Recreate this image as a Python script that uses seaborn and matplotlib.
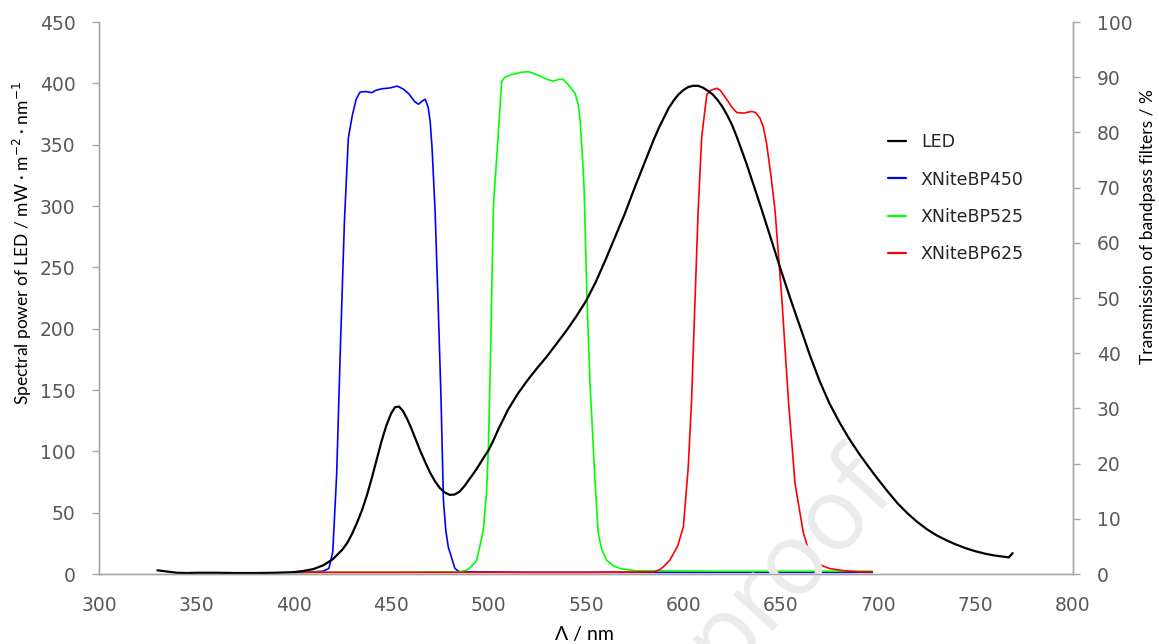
import numpy as np
import pandas as pd
import matplotlib
matplotlib.use("Agg")
import matplotlib.pyplot as plt
from matplotlib.lines import Line2D
import seaborn as sns

# LED spectral power (mW m^-2 nm^-1)
led_nm = [330, 335, 340, 345, 350, 360, 370, 380, 390, 400, 405, 410, 415, 420, 425,
          427.5, 430, 432.5, 435, 437.5, 440, 442.5, 445, 447.5, 450, 452, 454, 456,
          458, 460, 462.5, 465, 467.5, 470, 472.5, 475, 477.5, 480, 482.5, 485, 487.5,
          490, 492.5, 495, 497.5, 500, 502.5, 505, 507.5, 510, 515, 520, 525, 530,
          535, 540, 545, 550, 555, 560, 565, 570, 575, 580, 585, 587.5, 590, 592.5,
          595, 597.5, 600, 602.5, 605, 607.5, 610, 612.5, 615, 617.5, 620, 622.5,
          625, 627.5, 630, 632.5, 635, 637.5, 640, 645, 650, 655, 660, 665, 670, 675,
          680, 685, 690, 695, 700, 705, 710, 715, 720, 725, 730, 735, 740, 745, 750,
          755, 760, 765, 767, 769]
led_power = [3.0, 2.0, 1.0, 0.8, 1.0, 1.0, 0.8, 0.8, 1.0, 1.5, 2.5, 4, 7, 12, 20,
             25.5, 33, 42, 52, 64, 78, 93, 108, 121, 131, 136, 136.5, 133,
             127, 120, 110, 100, 91, 82.5, 75.5, 70, 66.5, 64.5, 64.8, 67, 71.5,
             77, 82.5, 88.5, 95, 101, 109, 118, 126, 134, 147, 158, 168, 177.5,
             188, 198.5, 210, 222.5, 238, 256, 275, 294, 315, 335, 355, 364, 372, 380,
             386, 391, 394.5, 397, 398, 398, 396.5, 394, 391, 386.5, 381, 374,
             366, 356, 345, 334, 322, 310, 298, 273, 248, 224, 201, 178, 157, 139,
             124, 110.5, 98.5, 87.5, 77, 67, 57.5, 49.5, 42.5, 36.5, 31.5, 27.5, 24, 21, 18.5,
             16.5, 15, 14, 13.5, 17]

# Bandpass filter transmission (%)
bp450_nm = [400, 405, 410, 415, 418, 420, 422, 424, 426, 428, 430, 432, 434, 437, 440,
            442, 445, 448, 450, 453, 456, 459, 462, 464, 466, 467.5, 469, 470, 471,
            472.5, 474, 475.6, 476.8, 478, 479.3, 482.7, 485, 520, 560, 600, 650, 697]
bp450_t = [0.3, 0.3, 0.4, 0.5, 1.0, 4, 18, 42, 64, 79, 83, 86, 87.3, 87.4, 87.2,
           87.6, 87.9, 88.0, 88.1, 88.4, 87.9, 87.0, 85.6, 85.1, 85.7, 86.0, 84.5, 82, 77,
           66, 50, 31.5, 13.4, 8, 4.9, 1.0, 0.4, 0.3, 0.3, 0.3, 0.3, 0.3]

bp525_nm = [400, 450, 485, 488.8, 491, 493.9, 495.5, 497.3, 499, 499.9, 501, 502.5,
            503.5, 505, 506.7, 508.4, 511, 514.4, 517, 520.4, 523, 526.4, 530, 533.2,
            536, 538.3, 541, 544.4, 546, 547, 548.3, 549, 550.5, 552, 554.6, 556.3,
            558, 560.6, 564, 567.5, 575, 620, 660, 697]
bp525_t = [0.3, 0.3, 0.4, 0.7, 1.3, 2.5, 5, 8, 15, 23, 40, 67,
           72, 79.8, 89.2, 90.0, 90.4, 90.7, 90.9, 91.0, 90.7, 90.2, 89.6, 89.3,
           89.6, 89.6, 88.6, 87.1, 85, 82.2, 75, 70, 50, 35, 17, 7.4,
           4.5, 2.5, 1.5, 1.0, 0.6, 0.5, 0.5, 0.5]

bp625_nm = [400, 450, 500, 550, 585, 588, 589.7, 593, 597, 600, 602.5, 604.2, 606,
            607.6, 609.4, 612, 614, 617.1, 619, 622.2, 625, 627.4, 631, 635.1, 637,
            639.3, 641, 642.7, 645, 647, 650.5, 653.9, 657.3, 661.6, 665, 668.4, 675,
            682, 690, 697]
bp625_t = [0.3, 0.3, 0.3, 0.3, 0.4, 0.8, 1.3, 2.5, 5, 8.6, 19.4, 31.5, 50,
           66, 79.2, 86.8, 87.6, 88.0, 87.6, 86, 84.5, 83.6, 83.5, 83.8, 83.6,
           82.6, 81, 78, 72, 66, 50, 31.5, 16.4, 7.4, 3.5, 1.9, 1.0,
           0.6, 0.4, 0.4]

filter_names = ["XNiteBP450", "XNiteBP525", "XNiteBP625"]
filter_colors = ["#0000ff", "#00ff00", "#ff0000"]

led_df = pd.DataFrame({"nm": led_nm, "power": led_power})
filt_df = pd.concat([
    pd.DataFrame({"nm": bp450_nm, "t": bp450_t, "filter": filter_names[0]}),
    pd.DataFrame({"nm": bp525_nm, "t": bp525_t, "filter": filter_names[1]}),
    pd.DataFrame({"nm": bp625_nm, "t": bp625_t, "filter": filter_names[2]}),
], ignore_index=True)

sns.set_style("white")
plt.rcParams["font.family"] = ["DejaVu Sans"]

fig = plt.figure(figsize=(11.59, 6.44), dpi=100)
ax = fig.add_axes([99 / 1159, 1 - 574 / 644, (1073 - 99) / 1159, (574 - 22) / 644])
ax2 = ax.twinx()

# faint watermark behind the curves
fig.text(0.682, 0.126, "proof", fontsize=72, color="#ebebeb", rotation=48,
         ha="center", va="center", family="Open Sans", zorder=0)
ax.patch.set_alpha(0)
ax2.patch.set_alpha(0)

sns.lineplot(data=filt_df, x="nm", y="t", hue="filter", palette=filter_colors,
             hue_order=filter_names, ax=ax2, linewidth=1.2, legend=False,
             sort=False, estimator=None)
sns.lineplot(data=led_df, x="nm", y="power", ax=ax, color="black", linewidth=1.6,
             legend=False, sort=False, estimator=None)
ax.set_zorder(ax2.get_zorder() + 1)

grey = "#a6a6a6"
tick_col = "#595959"
for a in (ax, ax2):
    a.set_xlim(300, 800)
    a.spines["top"].set_visible(False)
    for s in ("left", "right", "bottom"):
        a.spines[s].set_color(grey)
        a.spines[s].set_linewidth(1.0)
    a.tick_params(colors=grey, labelcolor=tick_col, labelsize=13.5, length=5, width=1,
                  direction="out", pad=12)
    a.grid(False)

ax.set_ylim(0, 450)
ax.set_yticks(np.arange(0, 451, 50))
ax.set_xticks(np.arange(300, 801, 50))
ax2.set_ylim(0, 100)
ax2.set_yticks(np.arange(0, 101, 10))
ax.tick_params(axis="x", pad=11)

lab_font = dict(family="Lato", fontsize=12.5, color="black")
ax.set_ylabel("Spectral power of LED / mW \u00b7 m$^{-2}$ \u00b7 nm$^{-1}$", va="center", **lab_font)
ax.yaxis.set_label_coords(-0.079, 0.60)
ax2.set_ylabel("Transmission of bandpass filters / %", va="center", rotation=90, **lab_font)
ax2.yaxis.set_label_coords(1.077, 0.629)
ax.set_xlabel("\u039b / nm", va="center", family="Lato", fontsize=14, color="black")
ax.xaxis.set_label_coords(0.4985, -0.109)

handles = [Line2D([], [], color="black", linewidth=1.6, label="LED")] + [
    Line2D([], [], color=c, linewidth=1.6, label=n) for c, n in zip(filter_colors, filter_names)]
ax.legend(handles=handles, loc="upper left", bbox_to_anchor=(0.794, 0.827), frameon=False,
          fontsize=12.5, handlelength=1.05, handletextpad=0.85, labelspacing=1.12)

fig.savefig("out.png", dpi=100)
